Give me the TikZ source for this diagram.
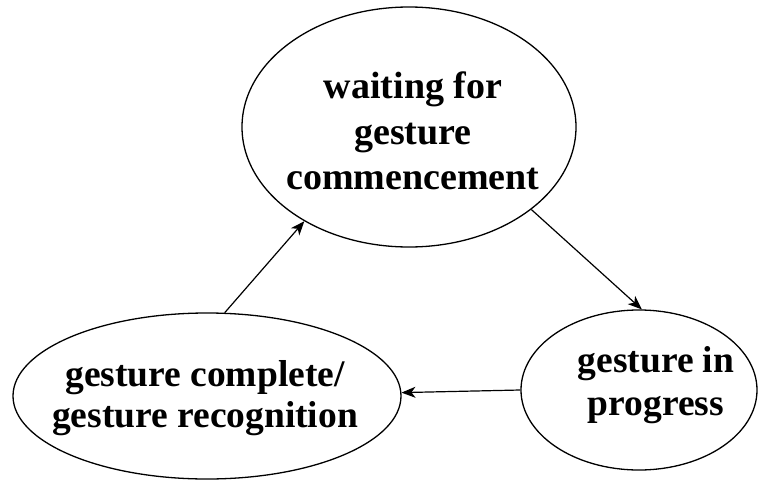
\documentclass[tikz,border=0pt]{standalone}
\usepackage{fontspec}
\setmainfont{Liberation Serif}
\usetikzlibrary{shapes.geometric,arrows.meta}
\begin{document}
\begin{tikzpicture}[x=1pt,y=-1pt,
  state/.style={draw=black, line width=1.3pt, ellipse, inner sep=0pt},
  caption/.style={align=center, inner sep=0pt, font=\bfseries\fontsize{37.5}{43}\selectfont},
  flow/.style={-{Stealth[length=14pt,width=11pt,inset=4pt]}, line width=1.2pt}]
\useasboundingbox (0,0) rectangle (769,482);
% the three states
\node[state, minimum width=334pt, minimum height=240pt] (wait) at (409,127) {};
\node[state, minimum width=388pt, minimum height=166pt] (done) at (207,396) {};
\node[state, minimum width=236pt, minimum height=160pt] (prog) at (639,390) {};
% state names
\node[caption, font=\bfseries\fontsize{38}{45.5}\selectfont] (t-wait) at (413,131) {waiting for\\gesture\\commencement};
\node[caption, font=\bfseries\fontsize{37.5}{41.5}\selectfont] (t-done) at (205,398) {gesture complete/\\gesture recognition};
\node[caption, font=\bfseries\fontsize{37.5}{43}\selectfont] (t-prog) at (656,385) {gesture in\\progress};
% transitions
\draw[flow] (wait.-34) -- (prog.88);
\draw[flow] (prog.180) -- (done.1.5);
\draw[flow] (done.78) -- (wait.-138);
\end{tikzpicture}
\end{document}
